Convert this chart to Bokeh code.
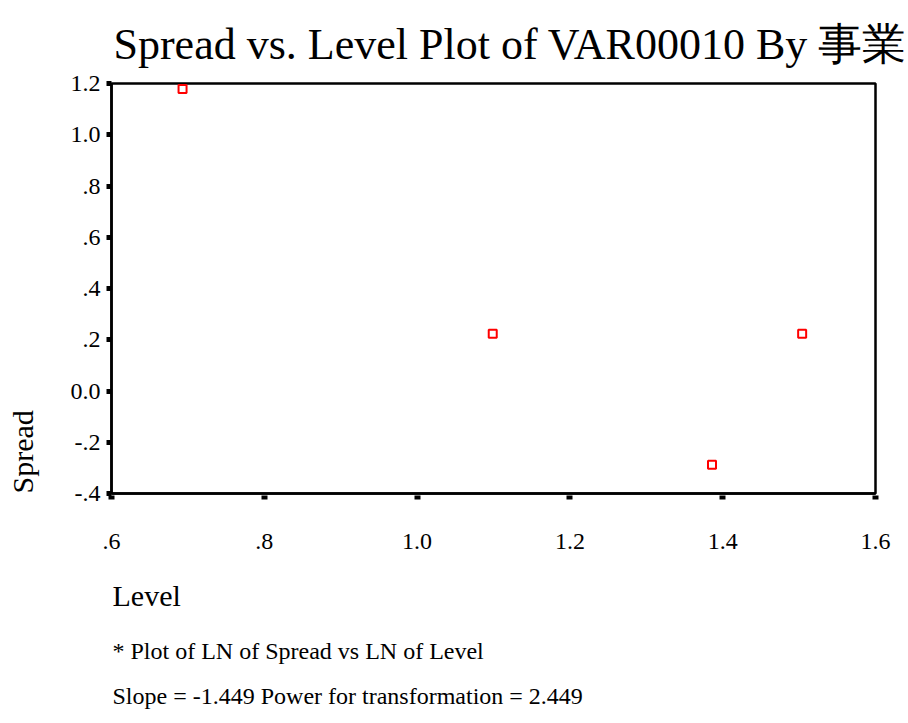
from bokeh.plotting import figure
from bokeh.models import Range1d, FixedTicker, Title
from bokeh.embed import file_html
from bokeh.resources import INLINE

# ---- data ----
level = [0.693, 1.099, 1.386, 1.504]
spread = [1.179, 0.223, -0.288, 0.223]

x_ticks = [0.6, 0.8, 1.0, 1.2, 1.4, 1.6]
x_tick_labels = [".6", ".8", "1.0", "1.2", "1.4", "1.6"]
y_ticks = [-0.4, -0.2, 0.0, 0.2, 0.4, 0.6, 0.8, 1.0, 1.2]
y_tick_labels = ["-.4", "-.2", "0.0", ".2", ".4", ".6", ".8", "1.0", "1.2"]

title_text = "Spread vs. Level Plot of VAR00010 By 事業"
x_label = "Level"
y_label = "Spread"
note1 = "* Plot of LN of Spread vs LN of Level"
note2 = "Slope = -1.449 Power for transformation = 2.449"

FONT = "Liberation Serif"

p = figure(width=908, height=723, output_backend="svg", toolbar_location=None,
           x_range=Range1d(0.6, 1.6), y_range=Range1d(-0.4, 1.2),
           min_border_left=111, min_border_right=33,
           min_border_top=83, min_border_bottom=230)

p.background_fill_color = "white"
p.border_fill_color = "white"
p.grid.visible = False
p.outline_line_color = "black"
p.outline_line_width = 2.5
p.outline_line_alpha = 1.0

p.scatter(level, spread, marker="square", size=8, line_color="#ff0000",
          line_width=2, fill_color="white")

# main title
p.title.text = title_text
p.title.align = "left"
p.title.offset = 2
p.title.text_font = FONT
p.title.text_font_size = "44px"
p.title.text_font_style = "normal"
p.title.text_color = "black"
p.title.standoff = 29
p.title.vertical_align = "bottom"

# x axis
xa = p.xaxis[0]
xa.ticker = FixedTicker(ticks=x_ticks)
xa.major_label_overrides = {t: l for t, l in zip(x_ticks, x_tick_labels)}
xa.axis_line_color = "black"
xa.axis_line_width = 2.5
xa.major_tick_line_color = "black"
xa.major_tick_line_width = 6
xa.major_tick_in = -2
xa.major_tick_out = 6
xa.minor_tick_line_color = None
xa.major_label_text_font = FONT
xa.major_label_text_font_size = "24px"
xa.major_label_text_color = "black"
xa.major_label_standoff = 34
xa.axis_label = " "
xa.axis_label_text_font_size = "5px"
xa.axis_label_standoff = 0

# y axis
ya = p.yaxis[0]
ya.ticker = FixedTicker(ticks=y_ticks)
ya.major_label_overrides = {t: l for t, l in zip(y_ticks, y_tick_labels)}
ya.axis_line_color = "black"
ya.axis_line_width = 2.5
ya.major_tick_line_color = "black"
ya.major_tick_line_width = 5
ya.major_tick_in = 0
ya.major_tick_out = 5
ya.minor_tick_line_color = None
ya.major_label_text_font = FONT
ya.major_label_text_font_size = "24px"
ya.major_label_text_color = "black"
ya.major_label_standoff = 6
ya.axis_label = " "
ya.axis_label_text_font_size = "10px"
ya.axis_label_standoff = 14

def side_title(text, size, standoff, side):
    t = Title(text=text, align="left", offset=1 if side == "below" else 0,
              text_font=FONT, text_font_size=size, text_font_style="normal",
              text_color="black", standoff=standoff, vertical_align="middle")
    p.add_layout(t, side)

side_title(y_label, "30px", 0, "left")
side_title(x_label, "30px", 34, "below")
side_title(note1, "24px", 14, "below")
side_title(note2, "24px", 21, "below")

open("out.html", "w").write(file_html(p, INLINE))
